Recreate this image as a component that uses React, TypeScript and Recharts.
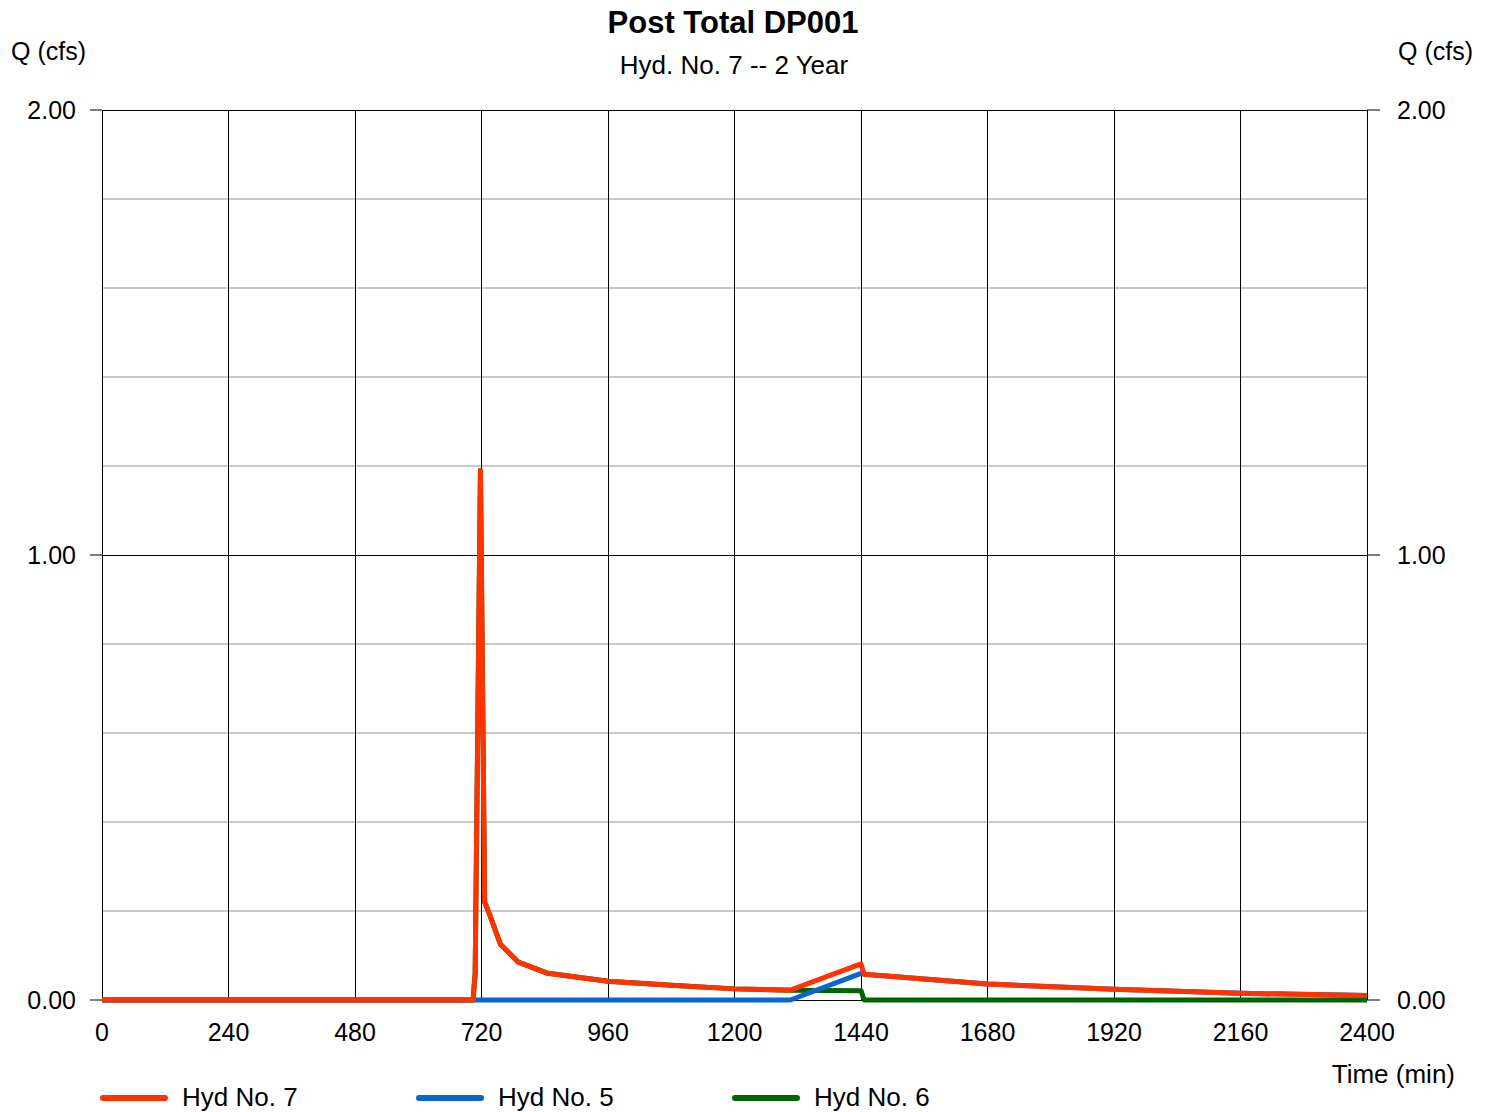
import React from 'react';
import { LineChart, Line, XAxis, YAxis, CartesianGrid } from 'recharts';

// hydrograph ordinates (min, cfs)
const times = [0, 704, 708, 718, 726, 736, 756, 790, 846, 960, 1080, 1200, 1306, 1440, 1446, 1680, 1920, 2160, 2400];
const hyd6 = [0, 0, 0.06, 1.19, 0.22, 0.19, 0.125, 0.085, 0.06, 0.042, 0.033, 0.025, 0.022, 0.021, 0, 0, 0, 0, 0];
const hyd5 = [0, 0, 0, 0, 0, 0, 0, 0, 0, 0, 0, 0, 0, 0.06, 0.058, 0.036, 0.024, 0.015, 0.01];
// total = 5 + 6
const hyd7 = times.map((_, i) => +(hyd5[i] + hyd6[i]).toFixed(3));

const xTicks = [0, 240, 480, 720, 960, 1200, 1440, 1680, 1920, 2160, 2400];
const yTicks = [0, 1, 2];
const yMinor = [0.2, 0.4, 0.6, 0.8, 1.2, 1.4, 1.6, 1.8];

const legendItems = [
  { name: 'Hyd No. 7', color: '#ff3300' },
  { name: 'Hyd No. 5', color: '#0a66cc' },
  { name: 'Hyd No. 6', color: '#006400' },
];

const data = times.map((t, i) => ({ t, h7: hyd7[i], h5: hyd5[i], h6: hyd6[i] }));

const FONT = '"Liberation Sans", Arial, sans-serif';
const tickStyle = { fontSize: 25, fill: '#000', fontFamily: FONT };
const fmt = (v: number) => v.toFixed(2);

export default function App() {
  return (
    <div style={{ position: 'absolute', left: 0, top: 0, width: 1494, height: 1112, background: '#fff' }}>
      <LineChart width={1494} height={1112} data={data} margin={{ top: 110, right: 0, bottom: 0, left: 0 }}>
        <CartesianGrid horizontalValues={yMinor} vertical={false} stroke="#c8c8c8" strokeWidth={2} />
        <CartesianGrid
          horizontalValues={yTicks}
          verticalValues={xTicks}
          stroke="#000"
          strokeWidth={1}
          shapeRendering="crispEdges"
        />
        <XAxis
          dataKey="t"
          type="number"
          domain={[0, 2400]}
          ticks={xTicks}
          axisLine={false}
          tickLine={false}
          tickSize={8}
          tickMargin={15}
          height={112}
          tick={tickStyle}
          interval={0}
        />
        <YAxis
          domain={[0, 2]}
          ticks={yTicks}
          width={102}
          axisLine={false}
          tickSize={12}
          tickMargin={14}
          tick={tickStyle}
          tickLine={{ stroke: '#000' }}
          tickFormatter={fmt}
          interval={0}
        />
        <YAxis
          yAxisId="right"
          orientation="right"
          domain={[0, 2]}
          ticks={yTicks}
          width={127}
          axisLine={false}
          tickSize={13}
          tickMargin={17}
          tick={tickStyle}
          tickLine={{ stroke: '#000' }}
          tickFormatter={fmt}
          interval={0}
        />
        <Line yAxisId="right" dataKey="h6" type="linear" stroke="#006400" strokeWidth={5} dot={false} isAnimationActive={false} strokeLinejoin="round" />
        <Line dataKey="h5" type="linear" stroke="#0a66cc" strokeWidth={5} dot={false} isAnimationActive={false} strokeLinejoin="round" />
        <Line dataKey="h7" type="linear" stroke="#ff3300" strokeWidth={5} dot={false} isAnimationActive={false} strokeLinejoin="round" />
      </LineChart>
      <svg
        width={1494}
        height={1112}
        style={{ position: 'absolute', left: 0, top: 0, pointerEvents: 'none' }}
        fontFamily={FONT}
      >
        <text x={733} y={33} textAnchor="middle" fontSize={31} fontWeight="bold">Post Total DP001</text>
        <text x={734} y={74} textAnchor="middle" fontSize={26}>Hyd. No. 7 -- 2 Year</text>
        <text x={11} y={60} fontSize={25}>Q (cfs)</text>
        <text x={1398} y={60} fontSize={25}>Q (cfs)</text>
        <text x={1455} y={1083} textAnchor="end" fontSize={26}>Time (min)</text>
        {legendItems.map((it, i) => (
          <g key={it.name}>
            <line x1={103 + i * 316} x2={165 + i * 316} y1={1098} y2={1098} stroke={it.color} strokeWidth={6} strokeLinecap="round" />
            <text x={182 + i * 316} y={1106} fontSize={26}>{it.name}</text>
          </g>
        ))}
      </svg>
    </div>
  );
}
